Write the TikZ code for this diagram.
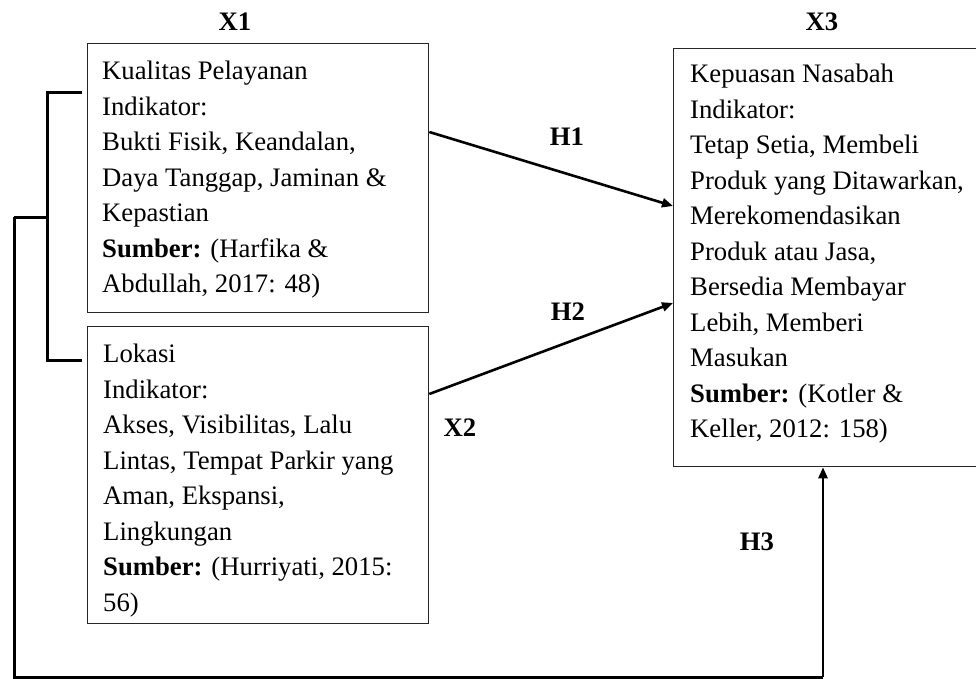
\documentclass[tikz,border=0pt]{standalone}
\usepackage{fontspec}
\setmainfont{Liberation Serif}
\usetikzlibrary{arrows.meta,calc}
\tikzset{
  boxframe/.style={draw=black!85, line width=1.3pt, inner sep=0pt, anchor=north west},
  boxtext/.style={inner sep=0pt, anchor=north west, align=left, font=\fontsize{26.7}{35.5}\selectfont},
  lbl/.style={inner sep=0pt, font=\fontsize{26.7}{32}\selectfont\bfseries},
  conn/.style={line width=2.6pt, -{Triangle[length=11pt,width=9pt]}},
  brk/.style={line width=3pt}
}
\begin{document}
\begin{tikzpicture}[x=1pt,y=-1pt]
\useasboundingbox (0,0) rectangle (976,679);
\clip (0,0) rectangle (976,679);
% boxes
\node[boxframe, minimum width=341pt, minimum height=269pt] (x1) at (87,43) {};
\node[boxframe, minimum width=341pt, minimum height=297pt] (x2) at (87,326) {};
\node[boxframe, minimum width=310pt, minimum height=418pt] (x3) at (673,48) {};
% texts
\node[boxtext] (x1t) at ($(x1.north west)+(15,18)$) {Kualitas Pelayanan\\Indikator:\\Bukti Fisik, Keandalan,\\Daya Tanggap, Jaminan \&\\Kepastian\\\textbf{Sumber:} (Harfika \&\\Abdullah, 2017: 48)};
\node[boxtext] (x2t) at ($(x2.north west)+(16,18)$) {Lokasi\\Indikator:\\Akses, Visibilitas, Lalu\\Lintas, Tempat Parkir yang\\Aman, Ekspansi,\\Lingkungan\\\textbf{Sumber:} (Hurriyati, 2015:\\56)};
\node[boxtext] (x3t) at ($(x3.north west)+(17,16)$) {Kepuasan Nasabah\\Indikator:\\Tetap Setia, Membeli\\Produk yang Ditawarkan,\\Merekomendasikan\\Produk atau Jasa,\\Bersedia Membayar\\Lebih, Memberi\\Masukan\\\textbf{Sumber:} (Kotler \&\\Keller, 2012: 158)};
% labels
\node[lbl] (lx1) at (235,22) {X1};
\node[lbl] (lx3) at (822,22) {X3};
\node[lbl] (lx2) at (460,428) {X2};
\node[lbl] (lh1) at (567,137) {H1};
\node[lbl] (lh2) at (568,312) {H2};
\node[lbl] (lh3) at (757,542) {H3};
% connector points
\coordinate (h1s) at ($(x1.north east)+(0,89)$);
\coordinate (h1e) at ($(x3.north west)+(0,158)$);
\coordinate (h2s) at ($(x2.north east)+(0,68)$);
\coordinate (h2e) at ($(x3.north west)+(0,255)$);
\draw[conn] (h1s) -- (h1e);
\draw[conn] (h2s) -- (h2e);
% bracket
\coordinate (bt) at (47,93);
\coordinate (bb) at (47,360);
\coordinate (bm) at (47,217);
\coordinate (om) at (14,217);
\coordinate (ob) at (14,677);
\coordinate (h3s) at (823,677);
\draw[brk] ($(x1.north west)+(-5,50)$) -- (bt) -- (bb) -- ($(x2.north west)+(-5,34)$);
\draw[brk] (bm) -- (om);
\draw[brk, line join=miter] (om) -- (ob) -- (h3s);
\draw[conn] (h3s) -- (h3s |- x3.south);
\end{tikzpicture}
\end{document}
